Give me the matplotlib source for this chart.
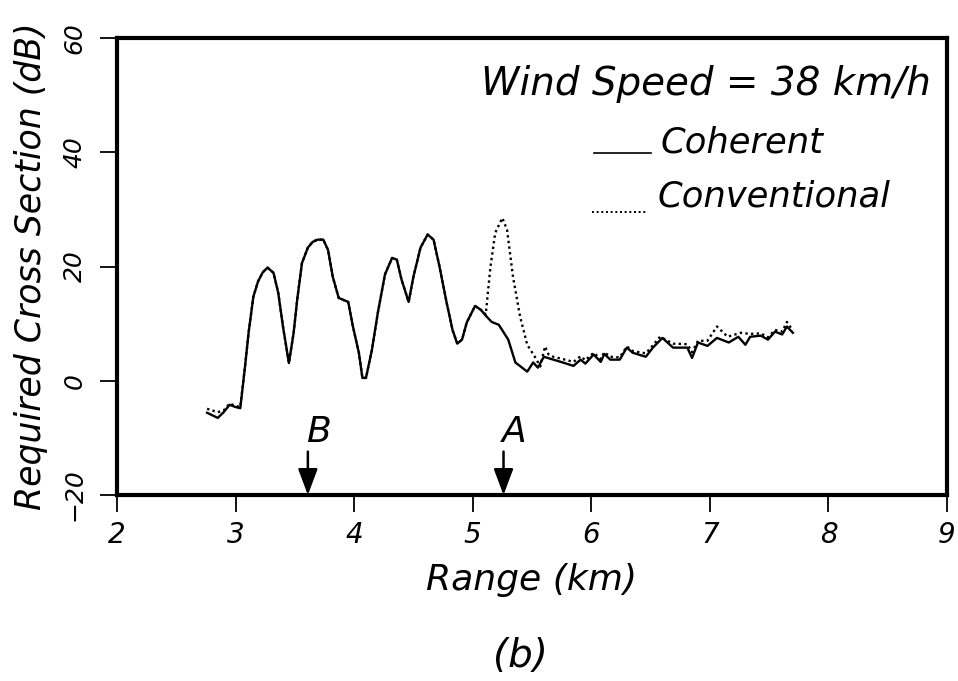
import matplotlib
matplotlib.use("Agg")
import matplotlib.pyplot as plt

# Coherent (solid)
range_coh = [2.76, 2.85, 2.90, 2.95, 3.00, 3.04, 3.08, 3.11, 3.15, 3.19, 3.23, 3.27, 3.32, 3.36, 3.40,
             3.45, 3.49, 3.52, 3.56, 3.61, 3.65, 3.69, 3.74, 3.78, 3.82, 3.87, 3.95, 3.99, 4.04, 4.07,
             4.10, 4.15, 4.20, 4.26, 4.32, 4.36, 4.40, 4.46, 4.50, 4.56, 4.62, 4.67, 4.72, 4.78, 4.83,
             4.87, 4.91, 4.95, 5.02, 5.07, 5.11, 5.16, 5.22, 5.30, 5.36, 5.46, 5.51, 5.55, 5.60, 5.68,
             5.76, 5.85, 5.91, 5.95, 6.02, 6.08, 6.11, 6.16, 6.24, 6.30, 6.35, 6.46, 6.52, 6.60, 6.69,
             6.81, 6.85, 6.90, 6.98, 7.06, 7.16, 7.24, 7.30, 7.34, 7.43, 7.49, 7.55, 7.61, 7.65, 7.70]
coh_db = [-5.6, -6.5, -5.5, -4.2, -4.6, -4.8, 2.5, 8.4, 14.7, 17.4, 19.0, 19.8, 18.9, 15.4, 9.5,
          3.1, 8.4, 14.2, 20.6, 23.3, 24.3, 24.7, 24.7, 22.9, 18.2, 14.5, 13.8, 9.5, 4.9, 0.5,
          0.5, 5.4, 11.9, 18.6, 21.5, 21.2, 17.7, 13.8, 18.2, 23.3, 25.6, 24.7, 20.0, 13.7, 8.9,
          6.5, 7.2, 10.2, 13.1, 12.4, 11.4, 10.3, 9.8, 7.2, 3.2, 1.6, 3.2, 2.3, 4.2, 3.7,
          3.2, 2.6, 3.7, 3.0, 4.6, 3.3, 4.7, 3.7, 3.7, 5.8, 4.9, 4.2, 5.8, 7.5, 5.8,
          5.8, 4.0, 6.7, 6.1, 7.5, 6.7, 7.7, 6.3, 7.7, 7.9, 7.2, 8.6, 8.1, 9.5, 8.4]

# Conventional (dotted)
range_conv = [2.76, 2.85, 2.90, 2.95, 3.00, 3.04, 3.08, 3.11, 3.15, 3.19, 3.23, 3.27, 3.32, 3.36, 3.40,
              3.45, 3.49, 3.52, 3.56, 3.61, 3.65, 3.69, 3.74, 3.78, 3.82, 3.87, 3.95, 3.99, 4.04, 4.07,
              4.10, 4.15, 4.20, 4.26, 4.32, 4.36, 4.40, 4.46, 4.50, 4.56, 4.62, 4.67, 4.72, 4.78, 4.83,
              4.87, 4.91, 4.95, 5.02, 5.07, 5.11, 5.15, 5.19, 5.25, 5.29, 5.34, 5.40, 5.46, 5.53, 5.57,
              5.61, 5.64, 5.68, 5.76, 5.85, 5.91, 5.95, 6.02, 6.08, 6.11, 6.16, 6.24, 6.30, 6.35, 6.46,
              6.52, 6.58, 6.69, 6.81, 6.85, 6.90, 6.98, 7.06, 7.15, 7.26, 7.34, 7.43, 7.49, 7.55, 7.61,
              7.65, 7.70]
conv_db = [-4.9, -5.5, -5.2, -4.0, -4.4, -4.6, 2.5, 8.4, 14.7, 17.4, 19.0, 19.8, 18.9, 15.4, 9.5,
           3.1, 8.4, 14.2, 20.6, 23.3, 24.3, 24.7, 24.7, 22.9, 18.2, 14.5, 13.8, 9.5, 4.9, 0.5,
           0.5, 5.4, 11.9, 18.6, 21.5, 21.2, 17.7, 13.8, 18.2, 23.3, 25.6, 24.7, 20.0, 13.7, 8.9,
           6.5, 7.2, 10.2, 13.1, 12.4, 11.6, 20.0, 25.9, 28.5, 26.4, 18.2, 11.2, 6.3, 4.0, 2.5,
           6.0, 4.6, 4.2, 3.8, 3.3, 4.3, 3.6, 4.9, 3.8, 5.0, 4.2, 4.1, 6.0, 5.2, 4.8,
           6.2, 7.7, 6.5, 6.4, 5.0, 7.0, 7.0, 9.5, 7.7, 8.4, 8.2, 8.3, 7.6, 8.9, 8.6,
           10.3, 8.8]

xticks = [2, 3, 4, 5, 6, 7, 8, 9]
yticks = [-20, 0, 20, 40, 60]
markers = ["B", "A"]
marker_range = [3.61, 5.26]

plt.rcParams["font.family"] = ["DejaVu Sans"]

fig = plt.figure(figsize=(9.58, 6.81), dpi=100)
ax = fig.add_axes([0.1221, 0.2731, 0.8664, 0.6711])

DOT = (0, (1.0, 1.4))
ax.plot(range_conv, conv_db, color="black", lw=1.7, linestyle=DOT)
ax.plot(range_coh, coh_db, color="black", lw=1.7)

ax.set_xlim(2, 9)
ax.set_ylim(-20, 60)
ax.set_xticks(xticks)
ax.set_yticks(yticks)
ax.set_xticklabels([str(v) for v in xticks], fontsize=20, style="italic")
ax.set_yticklabels(["\u221220" if v < 0 else str(v) for v in yticks], fontsize=18,
                   style="italic", rotation=90, va="center")
ax.tick_params(direction="out", length=12, width=1.3)
ax.tick_params(axis="x", pad=7)
ax.tick_params(axis="y", pad=10)
for s in ax.spines.values():
    s.set_linewidth(3.0)

ax.set_xlabel("Range (km)", fontsize=26, style="italic")
ax.xaxis.set_label_coords(0.50, -0.149)
ax.set_ylabel("Required Cross Section (dB)", fontsize=25, style="italic")
ax.yaxis.set_label_coords(-0.083, 0.50)

for lab, xr in zip(markers, marker_range):
    ax.annotate("", xy=(xr, -20), xytext=(xr, -12.4),
                arrowprops=dict(arrowstyle="-|>,head_length=0.8,head_width=0.3",
                                mutation_scale=20, color="black", lw=1.8,
                                shrinkA=0, shrinkB=0))
    ax.text(xr + 0.09, -10.7, lab, fontsize=26, style="italic", ha="center", va="baseline")

ax.text(8.86, 50.1, "Wind Speed = 38 km/h", fontsize=28, style="italic",
        ha="right", va="baseline")
# legend entries
ax.plot([6.02, 6.50], [39.9, 39.9], color="black", lw=1.2)
ax.text(6.58, 39.9, "Coherent", fontsize=25.5, style="italic", ha="left", va="baseline")
ax.plot([6.01, 6.48], [29.6, 29.6], color="black", lw=1.4, linestyle=DOT)
ax.text(6.56, 30.5, "Conventional", fontsize=25.5, style="italic", ha="left", va="baseline")

fig.text(0.543, 0.037, "(b)", fontsize=28, style="italic", ha="center", va="center")

fig.savefig("out.png", dpi=100)
